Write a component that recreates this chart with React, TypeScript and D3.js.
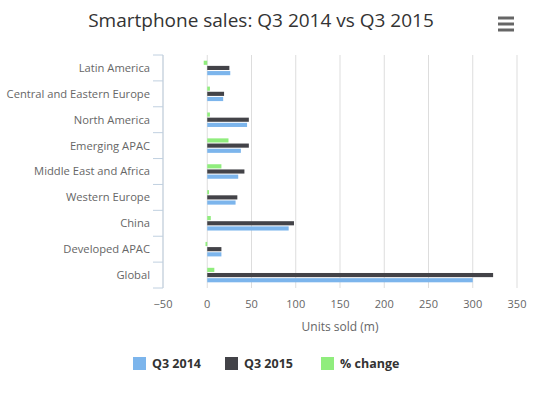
import React from "react";
import * as d3 from "d3";

const categories = [
  "Latin America",
  "Central and Eastern Europe",
  "North America",
  "Emerging APAC",
  "Middle East and Africa",
  "Western Europe",
  "China",
  "Developed APAC",
  "Global",
];
const q3_2014 = [26, 18, 45, 38, 35, 32, 92, 16, 300];
const q3_2015 = [25, 19, 47, 47, 42, 34, 98, 16, 323];
const pctChange = [-4, 3, 3, 24, 16, 2, 4, -2, 8];
const xTicks = [-50, 0, 50, 100, 150, 200, 250, 300, 350];
const seriesNames = ["Q3 2014", "Q3 2015", "% change"];
const seriesColors = ["#7cb5ec", "#434348", "#90ed7d"];

const W = 550;
const H = 400;
const M = { left: 163, right: 517, top: 55, bottom: 288 };
const FONT = "'Open Sans', sans-serif";

export default function App() {
  const x = d3.scaleLinear().domain([-50, 350]).range([M.left, M.right]);
  const y = d3.scaleBand<string>().domain(categories).range([M.top, M.bottom]).paddingInner(0).paddingOuter(0);
  const bw = y.bandwidth();
  const inner = d3
    .scaleBand<string>()
    .domain(["pct", "q15", "q14"])
    .range([bw * 0.2, bw * 0.8])
    .paddingInner(0.2)
    .paddingOuter(0.1);

  const series = [
    { key: "q14", vals: q3_2014, color: seriesColors[0] },
    { key: "q15", vals: q3_2015, color: seriesColors[1] },
    { key: "pct", vals: pctChange, color: seriesColors[2] },
  ];

  const legendItems = [
    { x: 133, name: seriesNames[0], color: seriesColors[0] },
    { x: 225, name: seriesNames[1], color: seriesColors[1] },
    { x: 321, name: seriesNames[2], color: seriesColors[2] },
  ];

  return (
    <svg width={W} height={H} style={{ position: "absolute", left: 0, top: 0, background: "#fff" }} fontFamily={FONT}>
      <rect width={W} height={H} fill="#fff" />
      <text x={261} y={27} textAnchor="middle" fontSize={19} fill="#333">
        Smartphone sales: Q3 2014 vs Q3 2015
      </text>
      {/* menu icon */}
      {[18, 24, 30].map((yy) => (
        <line key={yy} x1={498} x2={514} y1={yy} y2={yy} stroke="#666" strokeWidth={3} />
      ))}
      {/* grid lines */}
      {xTicks.map((t) => (
        <line key={t} x1={x(t)} x2={x(t)} y1={M.top} y2={M.bottom} stroke="#DDDDDD" strokeWidth={1} />
      ))}
      {/* category axis */}
      <line x1={M.left} x2={M.left} y1={M.top} y2={M.bottom} stroke="#C0D0E0" strokeWidth={1} />
      {d3.range(categories.length + 1).map((i) => {
        const yy = M.top + i * bw;
        return <line key={i} x1={M.left - 10} x2={M.left} y1={yy} y2={yy} stroke="#C0D0E0" strokeWidth={1} />;
      })}
      {categories.map((c) => (
        <text key={c} x={150} y={(y(c) as number) + bw / 2} dy="0.35em" textAnchor="end" fontSize={11.2} fill="#666">
          {c}
        </text>
      ))}
      {/* bars */}
      {series.map((s) =>
        categories.map((c, i) => {
          const v = s.vals[i];
          const x0 = x(Math.min(0, v));
          const x1 = x(Math.max(0, v));
          return (
            <rect
              key={s.key + c}
              x={x0}
              y={(y(c) as number) + (inner(s.key) as number)}
              width={Math.max(0.5, x1 - x0)}
              height={inner.bandwidth()}
              fill={s.color}
            />
          );
        })
      )}
      {/* x tick labels */}
      {xTicks.map((t) => (
        <text key={t} x={x(t)} y={308} textAnchor="middle" fontSize={11} fill="#666">
          {t < 0 ? "\u221250" : t}
        </text>
      ))}
      <text x={(M.left + M.right) / 2} y={331} textAnchor="middle" fontSize={12} fill="#666">
        Units sold (m)
      </text>
      {/* legend */}
      {legendItems.map((l) => (
        <g key={l.name}>
          <rect x={l.x} y={357} width={13} height={13} fill={l.color} />
          <text x={l.x + 19} y={368} fontSize={12.5} fontWeight="bold" fill="#333">
            {l.name}
          </text>
        </g>
      ))}
    </svg>
  );
}
